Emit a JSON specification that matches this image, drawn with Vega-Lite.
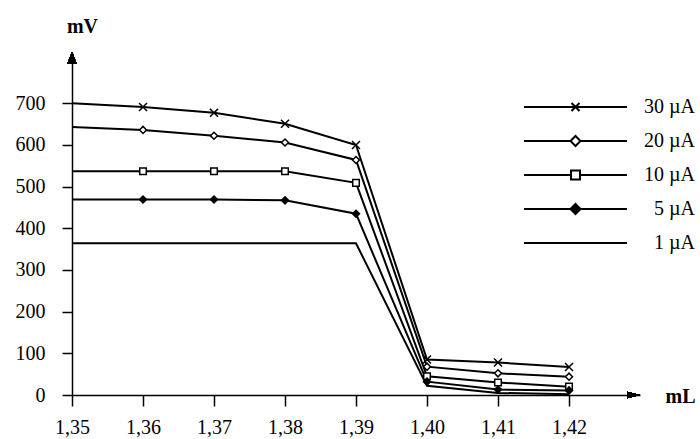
{
  "$schema": "https://vega.github.io/schema/vega-lite/v6.json",
  "width": 568,
  "height": 343,
  "autosize": {"type": "none"},
  "padding": {"left": 72, "top": 52, "right": 60, "bottom": 44},
  "background": "white",
  "config": {
    "view": {"stroke": null},
    "font": "Liberation Serif",
    "axis": {"grid": false, "domainColor": "black", "domainWidth": 1.5, "tickColor": "black", "tickWidth": 1.5, "labelColor": "black", "labelFont": "Liberation Serif", "labelFontSize": 20, "titleFont": "Liberation Serif", "titleFontSize": 20, "titleFontWeight": "bold", "titleColor": "black"}
  },
  "data": {
    "values": [
      {"series": "30 µA", "mL": 1.35, "mV": 700},
      {"series": "30 µA", "mL": 1.36, "mV": 691},
      {"series": "30 µA", "mL": 1.37, "mV": 677},
      {"series": "30 µA", "mL": 1.38, "mV": 651},
      {"series": "30 µA", "mL": 1.39, "mV": 600},
      {"series": "30 µA", "mL": 1.40, "mV": 85},
      {"series": "30 µA", "mL": 1.41, "mV": 78},
      {"series": "30 µA", "mL": 1.42, "mV": 67},
      {"series": "20 µA", "mL": 1.35, "mV": 643},
      {"series": "20 µA", "mL": 1.36, "mV": 636},
      {"series": "20 µA", "mL": 1.37, "mV": 622},
      {"series": "20 µA", "mL": 1.38, "mV": 606},
      {"series": "20 µA", "mL": 1.39, "mV": 564},
      {"series": "20 µA", "mL": 1.40, "mV": 68},
      {"series": "20 µA", "mL": 1.41, "mV": 52},
      {"series": "20 µA", "mL": 1.42, "mV": 44},
      {"series": "10 µA", "mL": 1.35, "mV": 537},
      {"series": "10 µA", "mL": 1.36, "mV": 537},
      {"series": "10 µA", "mL": 1.37, "mV": 537},
      {"series": "10 µA", "mL": 1.38, "mV": 537},
      {"series": "10 µA", "mL": 1.39, "mV": 509},
      {"series": "10 µA", "mL": 1.40, "mV": 45},
      {"series": "10 µA", "mL": 1.41, "mV": 30},
      {"series": "10 µA", "mL": 1.42, "mV": 20},
      {"series": "5 µA", "mL": 1.35, "mV": 469},
      {"series": "5 µA", "mL": 1.36, "mV": 469},
      {"series": "5 µA", "mL": 1.37, "mV": 469},
      {"series": "5 µA", "mL": 1.38, "mV": 467},
      {"series": "5 µA", "mL": 1.39, "mV": 435},
      {"series": "5 µA", "mL": 1.40, "mV": 32},
      {"series": "5 µA", "mL": 1.41, "mV": 13},
      {"series": "5 µA", "mL": 1.42, "mV": 11},
      {"series": "1 µA", "mL": 1.35, "mV": 364},
      {"series": "1 µA", "mL": 1.36, "mV": 364},
      {"series": "1 µA", "mL": 1.37, "mV": 364},
      {"series": "1 µA", "mL": 1.38, "mV": 364},
      {"series": "1 µA", "mL": 1.39, "mV": 364},
      {"series": "1 µA", "mL": 1.40, "mV": 22},
      {"series": "1 µA", "mL": 1.41, "mV": 5},
      {"series": "1 µA", "mL": 1.42, "mV": 2}
    ]
  },
  "encoding": {
    "x": {
      "field": "mL", "type": "quantitative",
      "scale": {"domain": [1.35, 1.43], "nice": false, "zero": false},
      "axis": {
        "values": [1.35, 1.36, 1.37, 1.38, 1.39, 1.40, 1.41, 1.42],
        "labelExpr": "replace(format(datum.value, '.2f'), '.', ',')",
        "tickSize": 11, "labelPadding": 11, "labelFlush": false, "labelOverlap": false,
        "title": "mL", "titleX": 593, "titleY": 7, "titleAlign": "left", "titleBaseline": "alphabetic", "titleAnchor": null
      }
    },
    "y": {
      "field": "mV", "type": "quantitative",
      "scale": {"domain": [0, 823], "nice": false},
      "axis": {
        "values": [0, 100, 200, 300, 400, 500, 600, 700],
        "format": "d", "tickSize": 10, "labelPadding": 17, "labelFlush": false, "labelOverlap": false,
        "title": "mV", "titleAngle": 0, "titleX": 10, "titleY": -20, "titleAlign": "center", "titleBaseline": "alphabetic", "titleAnchor": null
      }
    }
  },
  "layer": [
    {
      "mark": {"type": "line", "color": "black", "strokeWidth": 2, "opacity": 1},
      "encoding": {"detail": {"field": "series"}}
    },
    {
      "transform": [{"filter": "datum.mL > 1.355 && datum.series === '30 µA'"}],
      "mark": {"type": "point", "shape": "M-1.14,-1.14L1.14,1.14M-1.14,1.14L1.14,-1.14", "size": 49, "filled": false, "stroke": "black", "strokeWidth": 1.5, "opacity": 1}
    },
    {
      "transform": [{"filter": "datum.mL > 1.355 && datum.series === '20 µA'"}],
      "mark": {"type": "point", "shape": "M-1,0L0,-1L1,0L0,1Z", "size": 49, "filled": true, "fill": "white", "stroke": "black", "strokeWidth": 1.5, "opacity": 1}
    },
    {
      "transform": [{"filter": "datum.mL > 1.355 && datum.series === '10 µA'"}],
      "mark": {"type": "point", "shape": "M-0.94,-0.94H0.94V0.94H-0.94Z", "size": 49, "filled": true, "fill": "white", "stroke": "black", "strokeWidth": 1.5, "opacity": 1}
    },
    {
      "transform": [{"filter": "datum.mL > 1.355 && datum.series === '5 µA'"}],
      "mark": {"type": "point", "shape": "M-1,0L0,-1L1,0L0,1Z", "size": 49, "filled": true, "fill": "black", "stroke": "black", "strokeWidth": 1.5, "opacity": 1}
    },
    {
      "transform": [{"filter": "false"}],
      "mark": {"type": "point", "filled": true, "stroke": "black", "strokeWidth": 2, "opacity": 1},
      "encoding": {
        "shape": {
          "field": "series", "type": "nominal",
          "scale": {
            "domain": ["30 µA", "20 µA", "10 µA", "5 µA", "1 µA"],
            "range": [
              "M-1,0H1M-0.078,-0.078L0.078,0.078M-0.078,0.078L0.078,-0.078",
              "M-1,0H-0.097M0.097,0H1M-0.097,0L0,-0.097L0.097,0L0,0.097Z",
              "M-1,0H-0.087M0.087,0H1M-0.087,-0.087H0.087V0.087H-0.087Z",
              "M-1,0H1M-0.097,0L0,-0.097L0.097,0L0,0.097Z",
              "M-1,0H1"
            ]
          },
          "legend": {
            "orient": "none", "legendX": 451, "legendY": 45, "title": null, "padding": 0,
            "symbolSize": 10609, "symbolStrokeWidth": 2, "symbolOpacity": 1,
            "clipHeight": 20,
            "labelFont": "Liberation Serif", "labelFontSize": 20, "labelColor": "black",
            "labelAlign": "right", "labelOffset": 67, "rowPadding": 14, "labelLimit": 200
          }
        },
        "fill": {
          "field": "series", "type": "nominal",
          "scale": {"domain": ["30 µA", "20 µA", "10 µA", "5 µA", "1 µA"], "range": ["white", "white", "white", "black", "white"]}
        }
      }
    },
    {
      "mark": {"type": "point", "shape": "M0,0L-1,-0.25L-1,0.25Z", "size": 676, "filled": true, "color": "black", "opacity": 1},
      "encoding": {"x": {"datum": 1.43}, "y": {"datum": 0}}
    },
    {
      "mark": {"type": "point", "shape": "M0,0L0.4,1L-0.4,1Z", "size": 576, "filled": true, "color": "black", "opacity": 1},
      "encoding": {"x": {"datum": 1.35}, "y": {"datum": 823}}
    }
  ]
}
